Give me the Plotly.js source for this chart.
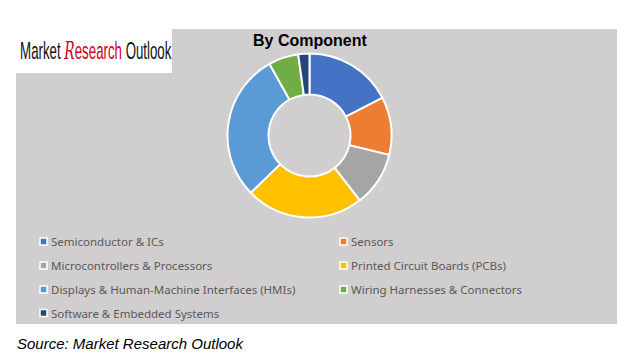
<!DOCTYPE html>
<html>
<head>
<meta charset="utf-8">
<script src="https://cdn.plot.ly/plotly-3.0.1.min.js"></script>
<style>html,body{margin:0;padding:0;background:#fff;}#chart{width:625px;height:355px;}</style>
</head>
<body>
<div id="chart"></div>
<script>
// ---- data ----
const categories = [
  "Semiconductor & ICs",
  "Sensors",
  "Microcontrollers & Processors",
  "Printed Circuit Boards (PCBs)",
  "Displays & Human-Machine Interfaces (HMIs)",
  "Wiring Harnesses & Connectors",
  "Software & Embedded Systems"
];
const shares = [17.4, 11.4, 10.7, 23.2, 29.2, 5.9, 2.2];
const colors = ["#4472C4", "#ED7D31", "#A5A5A5", "#FFC000", "#5B9BD5", "#70AD47", "#264478"];
const chartTitle = "By Component";
const sourceText = "Source: Market Research Outlook";

// ---- layout helpers (pixel -> paper) ----
const W = 625, H = 355;
const px = x => x / W;
const py = y => 1 - y / H;

const cx = 309.5, cy = 135.5, R = 82;

const trace = {
  type: "pie",
  labels: categories,
  values: shares,
  marker: { colors: colors, line: { color: "#ffffff", width: 2 } },
  sort: false,
  direction: "clockwise",
  rotation: 0,
  hole: 0.5,
  textinfo: "none",
  hoverinfo: "label+percent",
  showlegend: false,
  domain: { x: [px(cx - R), px(cx + R)], y: [py(cy + R), py(cy - R)] }
};

const shapes = [
  { type: "rect", xref: "paper", yref: "paper", x0: px(16), x1: px(617), y0: py(324), y1: py(29),
    fillcolor: "#D0CECE", line: { width: 0 }, layer: "below" },
  { type: "rect", xref: "paper", yref: "paper", x0: px(0), x1: px(172), y0: py(73), y1: py(0),
    fillcolor: "#FFFFFF", line: { width: 0 }, layer: "below" }
];

const annotations = [
  { text: "<b>" + chartTitle + "</b>", xref: "paper", yref: "paper", x: px(309.5), y: py(41),
    xanchor: "center", yanchor: "middle", showarrow: false,
    font: { family: "Liberation Sans, Arial, sans-serif", size: 16, color: "#000000" } },
  { text: "<i>" + sourceText + "</i>", xref: "paper", yref: "paper", x: px(15), y: py(343),
    xanchor: "left", yanchor: "middle", showarrow: false,
    font: { family: "Liberation Sans, Arial, sans-serif", size: 15, color: "#000000" } },
  { text: "Market <span style=\"color:#D0001C\"><i><span style=\"font-family:'DejaVu Serif';font-size:25px\">R</span></i>esearch</span> Outlook",
    xref: "paper", yref: "paper", x: px(18), y: py(50),
    xanchor: "left", yanchor: "middle", showarrow: false,
    font: { family: "Liberation Sans, Arial, sans-serif", size: 24, color: "#111111" } }
];

// legend built from categories & colors
const colX = [43.5, 343.5];
const rowY = [241.5, 265.5, 289.5, 313];
categories.forEach((c, i) => {
  const x = colX[i % 2], y = rowY[Math.floor(i / 2)];
  shapes.push({ type: "rect", xref: "paper", yref: "paper",
    x0: px(x - 3.5), x1: px(x + 3.5), y0: py(y + 3.5), y1: py(y - 3.5),
    fillcolor: colors[i], line: { color: "#ffffff", width: 1.5 } });
  annotations.push({ text: c, xref: "paper", yref: "paper", x: px(x + 5), y: py(y),
    xanchor: "left", yanchor: "middle", showarrow: false,
    font: { family: "Noto Sans, Open Sans, sans-serif", size: 11.5, color: "#595959" } });
});

const layout = {
  width: W, height: H,
  margin: { l: 0, r: 0, t: 0, b: 0 },
  paper_bgcolor: "#ffffff",
  showlegend: false,
  shapes: shapes,
  annotations: annotations
};

Plotly.newPlot("chart", [trace], layout, { displayModeBar: false, staticPlot: true }).then(gd => {
  // condense the logo wordmark horizontally to its narrow width
  const logo = gd.querySelectorAll(".annotation")[2];
  const txt = logo && logo.querySelector("text");
  if (txt) {
    const bb = txt.getBBox();
    const s = 152 / bb.width;
    txt.setAttribute("transform", `translate(${bb.x},0) scale(${s},1) translate(${-bb.x},0)`);
  }
});
</script>
</body>
</html>
